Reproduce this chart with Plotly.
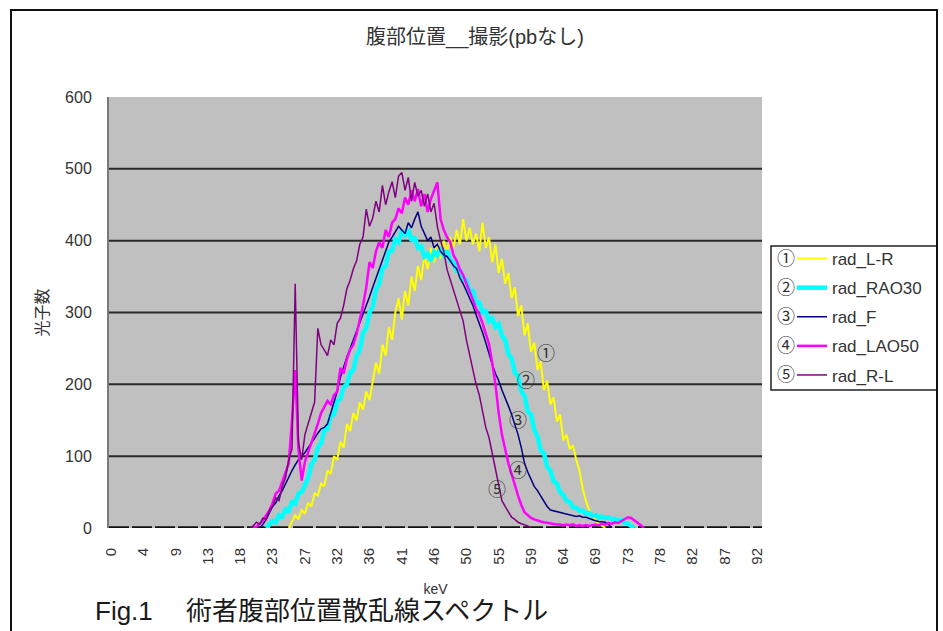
import plotly.graph_objects as go

# ---- data ----
KEV_STEP = 0.46  # keV per channel

series_names = ["rad_L-R", "rad_RAO30", "rad_F", "rad_LAO50", "rad_R-L"]
series_marks = ["①", "②", "③", "④", "⑤"]
series_colors = ["#FFFF00", "#00FFFF", "#000080", "#FF00FF", "#800080"]
series_widths = [2, 4.5, 1.5, 2.5, 1.5]

# first channel of each series
start_LR, start_RAO30, start_F, start_LAO50, start_RL = 55, 48, 46, 44, 43

counts_LR = [0, 8, 18, 12, 25, 20, 35, 30, 48, 45, 62, 58, 80, 75, 100, 95, 120, 112,
             145, 135, 160, 150, 175, 165, 190, 178, 205, 230, 215, 255, 240, 280, 262,
             300, 320, 290, 330, 310, 350, 330, 365, 345, 380, 360, 390, 370, 395, 375,
             400, 385, 405, 390, 415, 395, 430, 400, 418, 395, 410, 385, 425, 390, 405,
             370, 395, 355, 375, 340, 355, 320, 335, 295, 310, 268, 285, 245, 258, 220,
             232, 192, 205, 172, 182, 148, 158, 122, 130, 110, 115, 95, 80, 55, 38, 25,
             18, 10, 6, 3, 0]
counts_RAO30 = [0, 4, 10, 8, 18, 16, 26, 24, 36, 34, 48, 50, 62, 70, 88, 95, 112, 118,
                136, 138, 156, 158, 176, 180, 196, 200, 216, 220, 240, 248, 272, 278, 300,
                308, 332, 340, 362, 365, 385, 386, 402, 398, 414, 408, 416, 400, 405, 390,
                392, 378, 382, 372, 384, 380, 390, 380, 386, 372, 370, 358, 358, 346, 345,
                330, 330, 314, 314, 300, 302, 288, 292, 280, 284, 268, 262, 242, 236, 216,
                212, 190, 184, 162, 158, 136, 128, 108, 104, 85, 80, 65, 62, 50, 46, 38, 36,
                29, 28, 24, 24, 20, 21, 17, 18, 15, 16, 14, 15, 12, 13, 10, 11, 7, 6, 3, 0]
counts_F = [0, 5, 12, 20, 30, 35, 45, 52, 62, 72, 80, 88, 95, 100, 105, 112, 118, 125,
            132, 138, 140, 145, 160, 175, 190, 210, 225, 238, 250, 262, 272, 285, 297,
            310, 322, 335, 348, 361, 372, 385, 398, 405, 412, 420, 415, 410, 425, 418,
            430, 440, 420, 410, 400, 405, 390, 395, 385, 380, 378, 372, 365, 361, 348,
            340, 330, 320, 310, 297, 285, 272, 258, 242, 228, 215, 205, 192, 182, 170,
            158, 145, 130, 112, 90, 78, 68, 58, 52, 45, 38, 30, 25, 24, 22, 22, 20, 20,
            18, 18, 16, 17, 15, 15, 13, 12, 10, 9, 8, 8, 5, 0]
counts_LAO50 = [0, 2, 6, 10, 18, 24, 35, 48, 52, 65, 80, 90, 150, 220, 110, 66, 92, 105,
                118, 130, 145, 160, 168, 177, 172, 185, 190, 223, 215, 235, 248, 255, 270,
                290, 310, 335, 370, 362, 385, 398, 390, 415, 405, 425, 430, 445, 438, 460,
                450, 470, 455, 472, 448, 465, 440, 458, 470, 481, 430, 415, 405, 398, 380,
                372, 360, 352, 340, 330, 318, 305, 297, 285, 270, 256, 230, 200, 160, 130,
                110, 90, 75, 58, 45, 32, 22, 18, 14, 12, 10, 9, 8, 7, 6, 6, 5, 5, 4, 5, 4,
                5, 3, 4, 3, 4, 3, 4, 5, 4, 6, 5, 7, 6, 8, 7, 10, 12, 15, 14, 11, 7, 4, 0]
counts_RL = [0, 3, 8, 5, 14, 12, 25, 30, 42, 38, 58, 70, 95, 110, 340, 120, 95, 130, 145,
             160, 175, 278, 255, 248, 240, 262, 255, 285, 292, 310, 333, 345, 361, 372,
             395, 405, 444, 420, 432, 455, 440, 477, 450, 468, 482, 460, 490, 495, 470,
             488, 455, 481, 462, 470, 448, 465, 440, 452, 420, 400, 385, 360, 345, 332,
             315, 300, 288, 262, 240, 220, 200, 185, 160, 140, 126, 105, 80, 62, 38, 30,
             22, 15, 12, 8, 6, 5, 3, 0]

series_counts = [counts_LR, counts_RAO30, counts_F, counts_LAO50, counts_RL]
series_starts = [start_LR, start_RAO30, start_F, start_LAO50, start_RL]

x_tick_values = [0, 4.6, 9.2, 13.8, 18.4, 23, 27.6, 32.2, 36.8, 41.4, 46, 50.6, 55.2,
                 59.8, 64.4, 69, 73.6, 78.2, 82.8, 87.4, 92]
x_tick_labels = ["0", "4", "9", "13", "18", "23", "27", "32", "36", "41", "46", "50",
                 "55", "59", "64", "69", "73", "78", "82", "87", "92"]
y_tick_values = [0, 100, 200, 300, 400, 500, 600]
grid_values = [100, 200, 300, 400, 500]

# in-plot labels (keV, count)
label_kev = [62.0, 59.1, 57.9, 57.9, 54.9]
label_count = [242, 205, 149, 80, 53]

title_text = "腹部位置__撮影(pbなし)"
x_title = "keV"
y_title = "光子数"
caption = "Fig.1　 術者腹部位置散乱線スペクトル"

# ---- layout geometry (pixels) ----
W, H = 943, 631
L, R, T, B = 109, 181, 97, 103
PW, PH = W - L - R, H - T - B


def px_x(p):
    return (p - L) / PW


def px_y(p):
    return (H - B - p) / PH


FONT = "Liberation Sans, Noto Sans CJK JP, sans-serif"
TXT = "#333333"

fig = go.Figure()
for name, vals, start, col, w in zip(series_names, series_counts, series_starts,
                                     series_colors, series_widths):
    xs = [round(KEV_STEP * (start + i), 2) for i in range(len(vals))]
    fig.add_trace(go.Scatter(x=xs, y=vals, mode="lines", name=name, legendgroup=name,
                             line=dict(color=col, width=w), hoverinfo="skip"))

shapes = []
# horizontal gridlines
for g in grid_values:
    shapes.append(dict(type="line", xref="paper", yref="y", x0=0, x1=1, y0=g, y1=g,
                       line=dict(color="#2a2a2a", width=2), layer="below"))
# baseline at zero (dashed black)
shapes.append(dict(type="line", xref="paper", yref="y", x0=0, x1=1, y0=0, y1=0,
                   line=dict(color="#111111", width=3.5, dash="20px,3px"), layer="between"))
# legend box
shapes.append(dict(type="rect", xref="paper", yref="paper", x0=px_x(771), x1=px_x(937),
                   y0=px_y(390), y1=px_y(246), line=dict(color="#222222", width=1.5),
                   fillcolor="rgba(0,0,0,0)", layer="above"))
# outer frame
shapes.append(dict(type="rect", xref="paper", yref="paper", x0=px_x(11), x1=px_x(937),
                   y0=px_y(660), y1=px_y(10), line=dict(color="#111111", width=2),
                   fillcolor="rgba(0,0,0,0)", layer="above"))

annotations = []
for m, kx, ky in zip(series_marks, label_kev, label_count):
    annotations.append(dict(x=kx, y=ky, xref="x", yref="y", text=m, showarrow=False,
                            font=dict(size=18, color=TXT, family=FONT)))
row_px = [259, 288, 317, 346, 375]
for m, rp in zip(series_marks, row_px):
    annotations.append(dict(x=px_x(786), y=px_y(rp), xref="paper", yref="paper", text=m,
                            xanchor="center", showarrow=False,
                            font=dict(size=18, color=TXT, family=FONT)))
annotations.append(dict(x=px_x(93), y=px_y(611), xref="paper", yref="paper", text=caption,
                        showarrow=False, xanchor="left", yanchor="middle",
                        font=dict(size=26, color="#1a1a1a", family=FONT)))

fig.update_layout(
    width=W, height=H,
    margin=dict(l=L, r=R, t=T, b=B, autoexpand=False),
    paper_bgcolor="white", plot_bgcolor="#C0C0C0",
    font=dict(family=FONT, color=TXT),
    title=dict(text=title_text, x=475 / W, xanchor="center", y=1 - 37 / H,
               yanchor="middle", font=dict(size=20, color=TXT)),
    showlegend=True,
    legend=dict(x=px_x(792), y=px_y(241), xanchor="left", yanchor="top",
                bgcolor="rgba(0,0,0,0)", borderwidth=0, tracegroupgap=4,
                font=dict(size=17, color=TXT), itemwidth=30),
    shapes=shapes, annotations=annotations,
)
fig.update_xaxes(range=[-0.3, 92.7], tickmode="array", tickvals=x_tick_values,
                 ticktext=x_tick_labels, tickangle=-90, showgrid=False, zeroline=False,
                 showline=False, ticks="", tickfont=dict(size=15, color=TXT),
                 ticklabelstandoff=16, automargin=False,
                 title=dict(text=x_title, font=dict(size=14, color=TXT), standoff=20))
fig.update_yaxes(range=[0, 600], tickmode="array", tickvals=y_tick_values, showgrid=False,
                 zeroline=False, showline=True, linecolor="#7a7a7a", linewidth=2, ticks="",
                 tickfont=dict(size=16, color=TXT), ticklabelstandoff=12, automargin=False,
                 title=dict(text=y_title, font=dict(size=16, color=TXT), standoff=12))

fig.write_html("out.html", config={"displayModeBar": False},
               post_script="document.body.style.margin='0';")
